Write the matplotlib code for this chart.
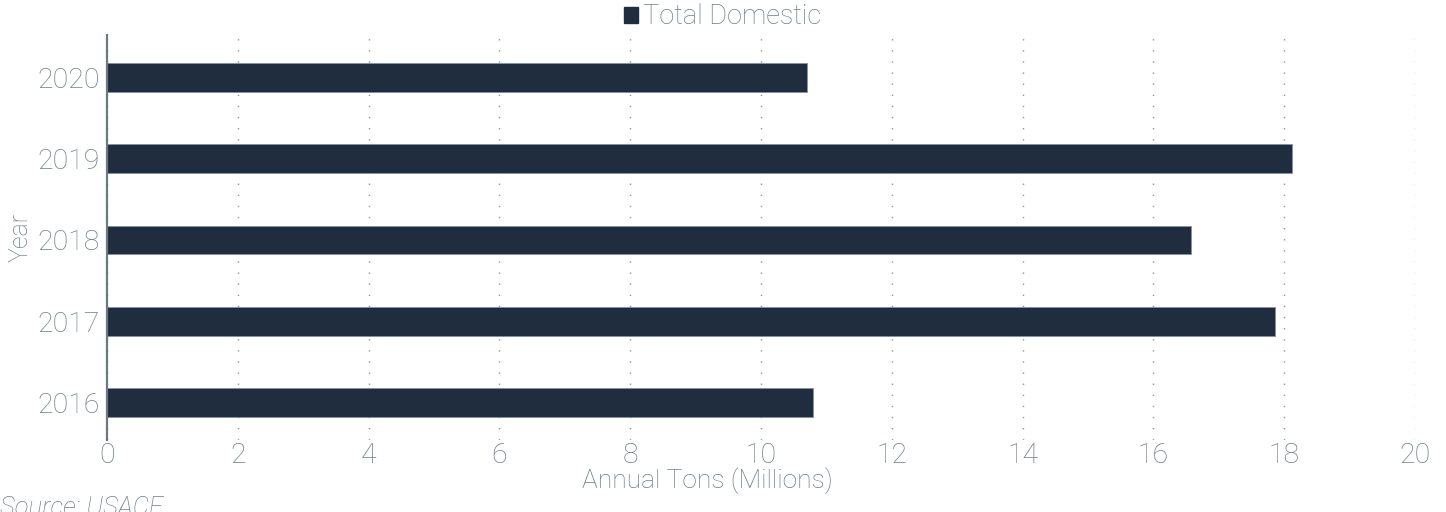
import matplotlib
matplotlib.use("Agg")
import matplotlib.pyplot as plt
from matplotlib.patches import Patch

years = ["2016", "2017", "2018", "2019", "2020"]
total_domestic = [10.80, 17.86, 16.57, 18.12, 10.71]
x_ticks = [0, 2, 4, 6, 8, 10, 12, 14, 16, 18, 20]

TEXT = "#6e7f88"
BAR = "#1f2d3f"
AXIS = "#6c7a80"
GRID = "#8a98a0"

plt.rcParams['font.family'] = ['Roboto', 'DejaVu Sans']

fig = plt.figure(figsize=(14.46, 5.12), dpi=100)
ax = fig.add_axes([0.074, 0.1406, 0.9046, 0.791])

pos = list(range(len(years)))
ax.barh(pos, total_domestic, height=0.355, color=BAR, edgecolor="#8592a0",
        linewidth=0.6, zorder=3)

ax.set_xlim(0, 20)
ax.set_ylim(-0.46, 4.52)
ax.set_xticks(x_ticks)
ax.set_xticklabels([str(t) for t in x_ticks])
ax.set_yticks(pos)
ax.set_yticklabels(years)

ax.xaxis.grid(True, color=GRID, linestyle=(0, (1, 7)), linewidth=1.0, zorder=0)
ax.yaxis.grid(False)

for s in ["top", "right", "bottom"]:
    ax.spines[s].set_visible(False)
ax.spines["left"].set_color(AXIS)
ax.spines["left"].set_linewidth(1.6)
ax.spines["left"].set_zorder(4)

ax.tick_params(axis="both", length=0, labelsize=20.5, labelcolor=TEXT)
ax.tick_params(axis="y", pad=5)
ax.tick_params(axis="x", pad=1.5)
for lab in ax.get_xticklabels() + ax.get_yticklabels():
    lab.set_fontweight("light")

fig.text(0.489, 0.061, "Annual Tons (Millions)", ha="center", va="center",
         fontsize=19, color=TEXT, fontweight="light")
fig.text(0.0145, 0.537, "Year", ha="center", va="center", rotation=90,
         fontsize=18, color=TEXT, fontweight="light")
fig.text(0.0, -0.006, "Source: USACE", ha="left", va="baseline",
         fontsize=18.5, color=TEXT, style="italic", fontweight="light")

handles = [Patch(facecolor=BAR, edgecolor=BAR, label="Total Domestic")]
leg = fig.legend(handles=handles, loc="upper center", bbox_to_anchor=(0.5, 1.025),
                 frameon=False, fontsize=19.5, handlelength=0.5, handleheight=0.5,
                 handletextpad=0.2, borderaxespad=0.2)
for t in leg.get_texts():
    t.set_color(TEXT)
    t.set_fontweight("light")

fig.savefig("out.png", dpi=100)
